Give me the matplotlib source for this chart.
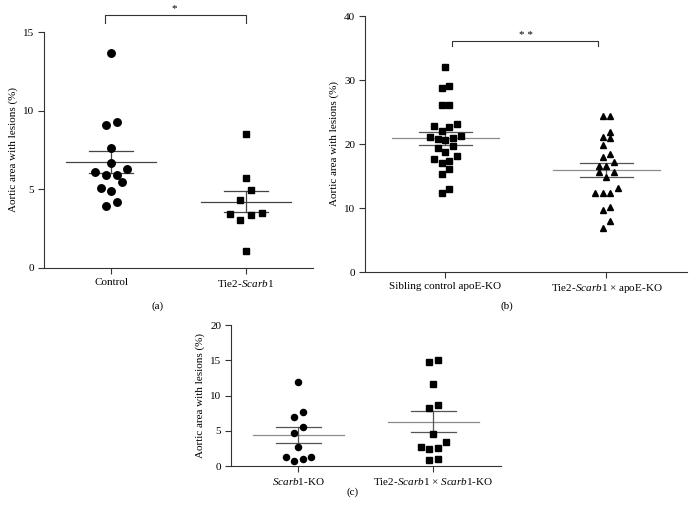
import numpy as np
import matplotlib
matplotlib.use('Agg')
import matplotlib.pyplot as plt

plt.rcParams['font.family'] = 'Liberation Serif'
plt.rcParams['mathtext.fontset'] = 'custom'
plt.rcParams['mathtext.rm'] = 'Liberation Serif'
plt.rcParams['mathtext.it'] = 'Liberation Serif:italic'
plt.rcParams['font.size'] = 8

# (a) Tie2-Scarb1 vs control
a_labels = ['Control', 'Tie2-$\\mathit{Scarb1}$']
a_control = [13.66, 9.31, 9.08, 7.64, 6.68, 6.28, 6.07, 5.90, 5.90, 5.45, 5.11, 4.90, 4.20, 3.95]
a_tie2 = [8.49, 5.75, 4.94, 4.29, 3.52, 3.35, 3.44, 3.06, 1.10]
a_mean = [6.73, 4.22]
a_sem = [0.69, 0.66]

# (b) apoE-KO background
b_labels = ['Sibling control apoE-KO', 'Tie2-$\\mathit{Scarb1}$ \u00d7 apoE-KO']
b_sibling = [32.1, 29.1, 28.8, 26.1, 26.1, 23.2, 22.6, 22.8, 22.1, 21.3, 21.0, 20.7, 20.8, 21.1,
             19.7, 19.3, 18.7, 18.2, 17.6, 17.1, 17.3, 16.1, 15.3, 12.9, 12.3]
b_tie2 = [24.4, 24.4, 21.8, 21.1, 21.0, 19.9, 18.5, 17.9, 17.2, 16.5, 16.6, 15.7, 15.7, 14.8,
          13.1, 12.3, 12.3, 12.3, 10.2, 9.7, 8.0, 6.9]
b_mean = [20.9, 15.97]
b_sem = [0.99, 1.05]

# (c) Scarb1-KO background
c_labels = ['$\\mathit{Scarb1}$-KO', 'Tie2-$\\mathit{Scarb1}$ \u00d7 $\\mathit{Scarb1}$-KO']
c_ko = [11.9, 7.6, 7.0, 5.5, 4.7, 2.65, 1.28, 1.33, 0.95, 0.76]
c_tie2 = [15.1, 14.8, 11.6, 8.6, 8.3, 4.5, 3.4, 2.6, 2.4, 2.75, 0.8, 1.05]
c_mean = [4.41, 6.30]
c_sem = [1.19, 1.52]

AX_COL = '#333333'


def swarm(ax, center, values, step_px):
    # rows like a prism scatter: points within one step share a row, centred
    vals = np.sort(np.asarray(values, dtype=float))
    tr = ax.transData
    y_px = tr.transform(np.column_stack([np.zeros(len(vals)), vals]))[:, 1]
    p0, p1 = tr.transform([[0, 0], [1, 0]])
    x_per_px = 1.0 / (p1[0] - p0[0])
    rows = []
    for v, yp in zip(vals, y_px):
        if rows and yp - rows[-1][0][1] < step_px:
            rows[-1].append((v, yp))
        else:
            rows.append([(v, yp)])
    xs, ys = [], []
    for row in rows:
        n = len(row)
        if n % 2:
            slots = [0] + [s for k in range(1, n // 2 + 1) for s in (-k, k)]
        else:
            slots = [s for k in range(n // 2) for s in (-(k + 0.5), k + 0.5)]
        for (v, _), s in zip(row, slots):
            xs.append(center + s * step_px * x_per_px)
            ys.append(v)
    return xs, ys


def mean_sem(ax, center, mean, sem, col_mean, col_sem):
    ax.plot([center - 0.335, center + 0.335], [mean, mean], color=col_mean, lw=0.9, zorder=2)
    ax.plot([center - 0.165, center + 0.165], [mean + sem] * 2, color=col_sem, lw=0.9, zorder=2)
    ax.plot([center - 0.165, center + 0.165], [mean - sem] * 2, color=col_sem, lw=0.9, zorder=2)
    ax.plot([center, center], [mean - sem, mean + sem], color=col_sem, lw=0.9, zorder=2)


def style(ax, ymax, step, labels):
    ax.set_xlim(-0.5, 1.5)
    ax.set_ylim(0, ymax)
    ax.set_yticks(np.arange(0, ymax + 1, step))
    ax.set_xticks([0, 1])
    ax.set_xticklabels(labels)
    for s in ['top', 'right']:
        ax.spines[s].set_visible(False)
    for s in ['left', 'bottom']:
        ax.spines[s].set_color(AX_COL)
        ax.spines[s].set_linewidth(0.8)
    ax.tick_params(length=4, width=0.8, color=AX_COL, pad=3, labelsize=8)
    ax.set_ylabel('Aortic area with lesions (%)', fontsize=8)


fig = plt.figure(figsize=(6.96, 5.12), dpi=100)
ax_a = fig.add_axes([0.0632, 0.4766, 0.3865, 0.4609])
ax_b = fig.add_axes([0.5244, 0.46875, 0.4626, 0.5])
ax_c = fig.add_axes([0.3319, 0.0898, 0.3879, 0.2754])

style(ax_a, 15, 5, a_labels)
style(ax_b, 40, 10, b_labels)
style(ax_c, 20, 5, c_labels)

# (a)
x, y = swarm(ax_a, 0, a_control, 10.7)
ax_a.plot(x, y, 'o', color='black', ms=5.4, zorder=3)
x, y = swarm(ax_a, 1, a_tie2, 10.7)
ax_a.plot(x, y, 's', color='black', ms=4.8, zorder=3)
for i in range(2):
    mean_sem(ax_a, i, a_mean[i], a_sem[i], '#444444', '#444444')
ax_a.plot([-0.05, -0.05, 1.0, 1.0], [15.57, 16.08, 16.08, 15.57], color=AX_COL, lw=0.8, clip_on=False)
ax_a.text(0.47, 16.5, '*', ha='center', va='center', fontsize=8)

# (b)
x, y = swarm(ax_b, 0, b_sibling, 7.6)
ax_b.plot(x, y, 's', color='black', ms=4.0, zorder=3)
x, y = swarm(ax_b, 1, b_tie2, 7.6)
ax_b.plot(x, y, '^', color='black', ms=4.6, zorder=3)
for i in range(2):
    mean_sem(ax_b, i, b_mean[i], b_sem[i], '#8c8c8c', '#555555')
ax_b.plot([0.043, 0.043, 0.95, 0.95], [35.3, 36.1, 36.1, 35.3], color=AX_COL, lw=0.8)
ax_b.text(0.5, 37.0, '* *', ha='center', va='center', fontsize=8)

# (c)
x, y = swarm(ax_c, 0, c_ko, 8.3)
ax_c.plot(x, y, 'o', color='black', ms=4.4, zorder=3)
x, y = swarm(ax_c, 1, c_tie2, 8.3)
ax_c.plot(x, y, 's', color='black', ms=4.1, zorder=3)
for i in range(2):
    mean_sem(ax_c, i, c_mean[i], c_sem[i], '#8c8c8c', '#555555')

fig.text(158 / 696, 1 - 306 / 512, '(a)', ha='center', va='center', fontsize=8)
fig.text(507 / 696, 1 - 306 / 512, '(b)', ha='center', va='center', fontsize=8)
fig.text(353 / 696, 1 - 492 / 512, '(c)', ha='center', va='center', fontsize=8)

fig.savefig('out.png', dpi=100)
